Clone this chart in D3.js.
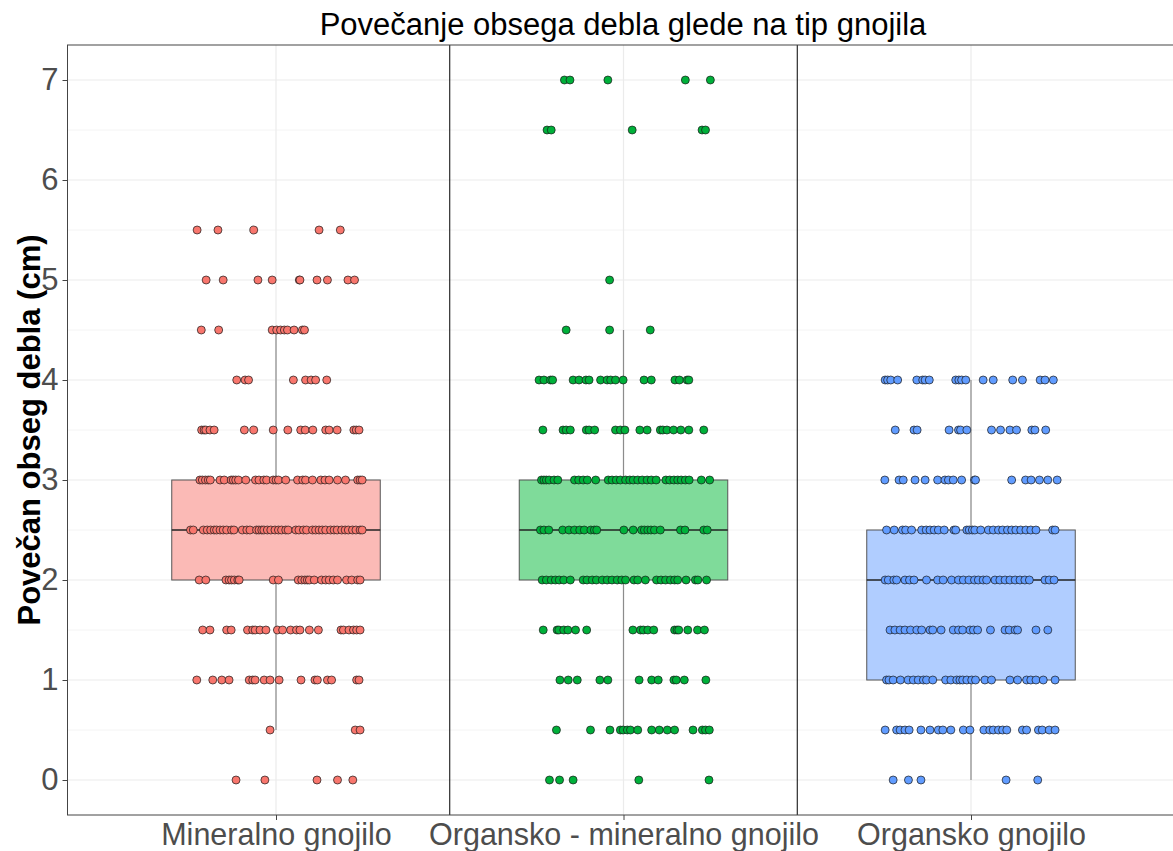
<!DOCTYPE html>
<html>
<head>
<meta charset="utf-8">
<script src="https://cdn.jsdelivr.net/npm/d3@7"></script>
<style>
  body { margin: 0; background: #fff; }
  text { font-family: "Liberation Sans", Arial, sans-serif; }
</style>
</head>
<body>
<div id="chart"></div>
<script>
// Categories and box statistics
const categories = ["Mineralno gnojilo", "Organsko - mineralno gnojilo", "Organsko gnojilo"];
const pointColors = ["#F8766D", "#00B03A", "#619CFF"];
const boxFills = ["#FBBAB6", "#7FDB9A", "#B0CDFF"];
const boxQ1 = [2, 2, 1];
const boxMedian = [2.5, 2.5, 2];
const boxQ3 = [3, 3, 2.5];
const whiskerLow = [0.5, 0.5, 0];
const whiskerHigh = [4.5, 4.5, 4];
const yTicks = [0, 1, 2, 3, 4, 5, 6, 7];

const mineralPoints = [
  [5.5, [-0.227, -0.167, -0.064, 0.124, 0.185]],
  [5, [-0.201, -0.152, -0.052, -0.011, 0.067, 0.069, 0.118, 0.148, 0.207, 0.226]],
  [4.5, [-0.215, -0.165, -0.011, 0.002, 0.013, 0.024, 0.033, 0.052, 0.076, 0.082]],
  [4, [-0.113, -0.089, -0.079, 0.050, 0.085, 0.101, 0.114, 0.146]],
  [3.5, [-0.214, -0.207, -0.202, -0.190, -0.178, -0.091, -0.064, -0.008, 0.034, 0.071, 0.084, 0.106, 0.143, 0.153, 0.176, 0.224, 0.231, 0.239]],
  [3, [-0.219, -0.212, -0.203, -0.195, -0.189, -0.161, -0.149, -0.129, -0.123, -0.116, -0.108, -0.087, -0.059, -0.049, -0.035, -0.027, -0.008, 0.000, 0.007, 0.028, 0.062, 0.077, 0.085, 0.105, 0.129, 0.141, 0.153, 0.177, 0.200, 0.235, 0.242, 0.248]],
  [2.5, [-0.246, -0.238, -0.209, -0.198, -0.188, -0.178, -0.171, -0.161, -0.152, -0.142, -0.128, -0.121, -0.097, -0.084, -0.075, -0.056, -0.049, -0.041, -0.035, -0.025, -0.015, -0.003, 0.007, 0.016, 0.028, 0.035, 0.057, 0.066, 0.079, 0.088, 0.105, 0.114, 0.124, 0.133, 0.143, 0.157, 0.167, 0.176, 0.189, 0.199, 0.208, 0.220, 0.230, 0.242, 0.248]],
  [2, [-0.221, -0.202, -0.144, -0.135, -0.128, -0.120, -0.110, -0.106, -0.008, 0.007, 0.064, 0.074, 0.083, 0.090, 0.096, 0.110, 0.131, 0.143, 0.153, 0.165, 0.177, 0.203, 0.218, 0.235, 0.242]],
  [1.5, [-0.211, -0.190, -0.142, -0.129, -0.082, -0.067, -0.060, -0.046, -0.029, 0.004, 0.019, 0.042, 0.059, 0.069, 0.096, 0.122, 0.187, 0.194, 0.210, 0.223, 0.232, 0.242]],
  [1, [-0.228, -0.182, -0.156, -0.135, -0.077, -0.067, -0.060, -0.034, -0.017, 0.009, 0.072, 0.112, 0.119, 0.148, 0.160, 0.232, 0.239]],
  [0.5, [-0.017, 0.228, 0.242]],
  [0, [-0.115, -0.032, 0.118, 0.177, 0.221]]
];

const orgMineralPoints = [
  [7, [-0.170, -0.154, -0.045, 0.178, 0.250]],
  [6.5, [-0.220, -0.208, 0.025, 0.226, 0.236]],
  [5, [-0.040]],
  [4.5, [-0.165, -0.040, 0.077]],
  [4, [-0.243, -0.229, -0.210, -0.204, -0.145, -0.128, -0.108, -0.099, -0.066, -0.047, -0.037, -0.023, -0.001, 0.059, 0.080, 0.148, 0.161, 0.183, 0.188]],
  [3.5, [-0.232, -0.174, -0.165, -0.153, -0.107, -0.099, -0.083, -0.023, -0.009, 0.004, 0.047, 0.068, 0.106, 0.113, 0.125, 0.144, 0.165, 0.188, 0.231]],
  [3, [-0.236, -0.229, -0.222, -0.214, -0.200, -0.189, -0.141, -0.129, -0.116, -0.104, -0.080, -0.044, -0.033, -0.021, -0.009, 0.006, 0.018, 0.028, 0.041, 0.054, 0.068, 0.080, 0.094, 0.122, 0.133, 0.145, 0.156, 0.166, 0.178, 0.189, 0.224, 0.248]],
  [2.5, [-0.239, -0.229, -0.215, -0.175, -0.157, -0.141, -0.126, -0.113, -0.094, -0.084, -0.077, 0.001, 0.028, 0.052, 0.060, 0.070, 0.079, 0.089, 0.106, 0.164, 0.177, 0.231, 0.241]],
  [2, [-0.234, -0.222, -0.208, -0.196, -0.185, -0.172, -0.153, -0.116, -0.105, -0.090, -0.078, -0.061, -0.047, -0.033, -0.018, -0.005, 0.006, 0.030, 0.041, 0.063, 0.095, 0.108, 0.121, 0.135, 0.147, 0.156, 0.180, 0.207, 0.214, 0.239]],
  [1.5, [-0.231, -0.191, -0.186, -0.172, -0.160, -0.138, -0.106, 0.027, 0.049, 0.057, 0.070, 0.087, 0.147, 0.154, 0.159, 0.185, 0.213, 0.233]],
  [1, [-0.183, -0.159, -0.133, -0.068, -0.045, 0.045, 0.081, 0.100, 0.145, 0.152, 0.175, 0.237]],
  [0.5, [-0.193, -0.095, -0.039, -0.009, -0.001, 0.011, 0.020, 0.041, 0.081, 0.103, 0.126, 0.147, 0.200, 0.227, 0.236, 0.247]],
  [0, [-0.213, -0.184, -0.145, 0.044, 0.246]]
];

const organicPoints = [
  [4, [-0.247, -0.240, -0.231, -0.211, -0.156, -0.139, -0.132, -0.120, -0.044, -0.035, -0.027, -0.015, 0.035, 0.064, 0.120, 0.148, 0.199, 0.213, 0.237]],
  [3.5, [-0.218, -0.164, -0.155, -0.063, -0.036, -0.030, -0.012, 0.059, 0.085, 0.112, 0.131, 0.175, 0.184, 0.215]],
  [3, [-0.248, -0.207, -0.195, -0.161, -0.132, -0.096, -0.075, -0.065, -0.051, -0.027, 0.010, 0.013, 0.117, 0.157, 0.173, 0.197, 0.221, 0.248]],
  [2.5, [-0.243, -0.221, -0.197, -0.188, -0.171, -0.142, -0.129, -0.118, -0.106, -0.094, -0.077, -0.049, -0.044, -0.012, -0.005, 0.004, 0.011, 0.028, 0.050, 0.064, 0.079, 0.091, 0.105, 0.117, 0.129, 0.143, 0.158, 0.172, 0.187, 0.235, 0.242]],
  [2, [-0.247, -0.238, -0.222, -0.214, -0.190, -0.177, -0.164, -0.128, -0.096, -0.080, -0.056, -0.036, -0.022, -0.006, 0.010, 0.021, 0.035, 0.045, 0.069, 0.083, 0.098, 0.112, 0.127, 0.141, 0.155, 0.168, 0.213, 0.225, 0.239]],
  [1.5, [-0.233, -0.219, -0.204, -0.190, -0.174, -0.156, -0.142, -0.118, -0.110, -0.086, -0.051, -0.036, -0.024, -0.003, 0.007, 0.019, 0.056, 0.098, 0.110, 0.127, 0.134, 0.187, 0.221]],
  [1, [-0.243, -0.236, -0.224, -0.203, -0.181, -0.166, -0.152, -0.137, -0.128, -0.110, -0.073, -0.058, -0.041, -0.032, -0.024, -0.012, 0.002, 0.013, 0.040, 0.059, 0.112, 0.134, 0.160, 0.172, 0.187, 0.208, 0.242]],
  [0.5, [-0.247, -0.214, -0.204, -0.190, -0.178, -0.144, -0.118, -0.094, -0.081, -0.058, -0.022, -0.003, 0.037, 0.054, 0.064, 0.079, 0.091, 0.103, 0.148, 0.160, 0.194, 0.205, 0.225, 0.242]],
  [0, [-0.224, -0.180, -0.144, 0.101, 0.192]]
];

const groupPoints = [mineralPoints, orgMineralPoints, organicPoints];

// Layout
const W = 1173, H = 851;
const panel = { left: 67.5, top: 45, bottom: 815 };

const svg = d3.select("#chart").append("svg")
  .attr("width", W)
  .attr("height", H);

// x: category index (1..3) with ggplot-style 0.6 expansion
const x = d3.scaleLinear().domain([0.4, 3.6]).range([panel.left, panel.left + 3.2 * 347.5]);
const y = d3.scaleLinear().domain([-0.35, 7.35]).range([panel.bottom, panel.top]);

const g = svg.append("g");

// Grid lines
const minor = d3.range(0, 7.5, 0.5).filter(v => v % 1 !== 0);
g.selectAll(".minor").data(minor).enter().append("line")
  .attr("x1", panel.left).attr("x2", W)
  .attr("y1", d => y(d)).attr("y2", d => y(d))
  .attr("stroke", "#F4F4F4").attr("stroke-width", 1);
g.selectAll(".major").data(yTicks).enter().append("line")
  .attr("x1", panel.left).attr("x2", W)
  .attr("y1", d => y(d)).attr("y2", d => y(d))
  .attr("stroke", "#EBEBEB").attr("stroke-width", 1.2);
g.selectAll(".vgrid").data(categories).enter().append("line")
  .attr("x1", (d, i) => x(i + 1)).attr("x2", (d, i) => x(i + 1))
  .attr("y1", panel.top).attr("y2", panel.bottom)
  .attr("stroke", "#EBEBEB").attr("stroke-width", 1.2);

// Separators between groups
g.selectAll(".sep").data([1.5, 2.5]).enter().append("line")
  .attr("x1", d => x(d)).attr("x2", d => x(d))
  .attr("y1", panel.top).attr("y2", panel.bottom)
  .attr("stroke", "#000").attr("stroke-width", 1);

// Boxplots
const boxHalf = 0.3;
categories.forEach((c, i) => {
  const cx = x(i + 1);
  g.append("line")
    .attr("x1", cx).attr("x2", cx)
    .attr("y1", y(boxQ3[i])).attr("y2", y(whiskerHigh[i]))
    .attr("stroke", "#8C8C8C").attr("stroke-width", 1.2);
  g.append("line")
    .attr("x1", cx).attr("x2", cx)
    .attr("y1", y(boxQ1[i])).attr("y2", y(whiskerLow[i]))
    .attr("stroke", "#8C8C8C").attr("stroke-width", 1.2);
  g.append("rect")
    .attr("x", x(i + 1 - boxHalf))
    .attr("y", y(boxQ3[i]))
    .attr("width", x(i + 1 + boxHalf) - x(i + 1 - boxHalf))
    .attr("height", y(boxQ1[i]) - y(boxQ3[i]))
    .attr("fill", boxFills[i])
    .attr("stroke", "#555")
    .attr("stroke-width", 1);
  g.append("line")
    .attr("x1", x(i + 1 - boxHalf)).attr("x2", x(i + 1 + boxHalf))
    .attr("y1", y(boxMedian[i])).attr("y2", y(boxMedian[i]))
    .attr("stroke", "#222").attr("stroke-width", 1.6);
});

// Jittered points
groupPoints.forEach((rows, i) => {
  const pts = [];
  rows.forEach(([v, offs]) => offs.forEach(o => pts.push({ v, o })));
  g.selectAll(".pt" + i).data(pts).enter().append("circle")
    .attr("cx", d => x(i + 1 + d.o))
    .attr("cy", d => y(d.v))
    .attr("r", 4)
    .attr("fill", pointColors[i])
    .attr("stroke", "#1a1a1a")
    .attr("stroke-width", 0.7);
});

// Panel border
svg.append("rect")
  .attr("x", panel.left).attr("y", panel.top)
  .attr("width", W - panel.left + 10).attr("height", panel.bottom - panel.top)
  .attr("fill", "none").attr("stroke", "#444").attr("stroke-width", 1);

// Y axis
const yAxis = svg.append("g")
  .attr("transform", `translate(${panel.left},0)`)
  .call(d3.axisLeft(y).tickValues(yTicks).tickSize(5).tickPadding(4));
yAxis.select(".domain").remove();
yAxis.selectAll("line").attr("stroke", "#444");
yAxis.selectAll("text")
  .style("font-size", "31px")
  .style("font-family", "'Liberation Sans', Arial, sans-serif")
  .attr("fill", "#4D4D4D");

// X axis
const xAxis = svg.append("g")
  .attr("transform", `translate(0,${panel.bottom})`)
  .call(d3.axisBottom(x).tickValues([1, 2, 3]).tickFormat(d => categories[d - 1]).tickSize(5).tickPadding(3));
xAxis.select(".domain").remove();
xAxis.selectAll("line").attr("stroke", "#444");
xAxis.selectAll("text")
  .style("font-size", "30.5px")
  .style("font-family", "'Liberation Sans', Arial, sans-serif")
  .attr("fill", "#4D4D4D");

// Y label
svg.append("text")
  .attr("transform", `translate(40,${(panel.top + panel.bottom) / 2}) rotate(-90)`)
  .attr("text-anchor", "middle")
  .style("font-size", "31px")
  .style("font-weight", "bold")
  .attr("fill", "#000")
  .text("Povečan obseg debla (cm)");

// Title
svg.append("text")
  .attr("x", 623)
  .attr("y", 35)
  .attr("text-anchor", "middle")
  .style("font-size", "31px")
  .attr("fill", "#000")
  .text("Povečanje obsega debla glede na tip gnojila");
</script>
</body>
</html>
